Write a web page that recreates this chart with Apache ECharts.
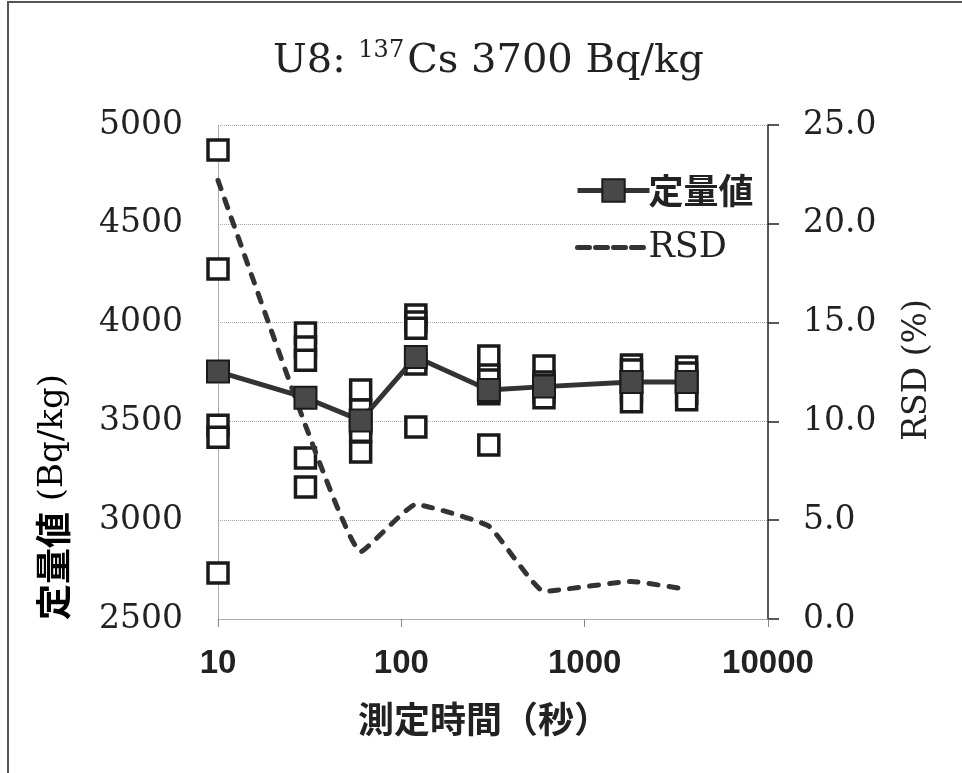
<!DOCTYPE html>
<html>
<head>
<meta charset="utf-8">
<script src="https://cdn.jsdelivr.net/npm/echarts@6/dist/echarts.min.js"></script>
<style>html,body{margin:0;padding:0;background:#fff;}#c{width:962px;height:773px;}</style>
</head>
<body>
<div id="c"></div>
<script>
// ---- data ----
var times = [10, 30, 60, 120, 300, 600, 1800, 3600];
var meanValues = [3752, 3620, 3505, 3826, 3659, 3676, 3700, 3700];
var rsdValues = [22.2, 9.8, 3.4, 5.8, 4.7, 1.4, 1.9, 1.5];
var m10 = [4873, 4271, 3480, 3420, 2733];
var m30 = [3947, 3876, 3810, 3315, 3168];
var m60 = [3659, 3558, 3490, 3450, 3345];
var m120 = [4038, 4003, 3972, 3790, 3472];
var m300 = [3831, 3735, 3710, 3640, 3380];
var m600 = [3780, 3700, 3680, 3650, 3620];
var m1800 = [3785, 3760, 3700, 3650, 3600];
var m3600 = [3775, 3745, 3700, 3643, 3610];
var measurements = [m10, m30, m60, m120, m300, m600, m1800, m3600];
var leftTicks = {min: 2500, max: 5000, interval: 500};
var rightTicks = {min: 0, max: 25, interval: 5};

var serif = "'DejaVu Serif', 'Noto Sans CJK JP', serif";
var cjk = "'Noto Sans CJK JP', 'DejaVu Serif', sans-serif";

var scatterData = [];
measurements.forEach(function (arr, i) {
  arr.forEach(function (v) { scatterData.push([times[i], v]); });
});
var meanData = times.map(function (t, i) { return [t, meanValues[i]]; });
var rsdData = times.map(function (t, i) { return [t, rsdValues[i]]; });

var chart = echarts.init(document.getElementById('c'), null, {renderer: 'canvas'});
chart.setOption({
  backgroundColor: '#fff',
  animation: false,
  title: {
    text: '{a|U8: }{s|137}{a|Cs 3700 Bq/kg}',
    left: 268, top: 34,
    textStyle: {
      fontWeight: 'normal',
      rich: {
        a: {fontFamily: serif, fontSize: 40, fontWeight: 'normal', color: '#222', lineHeight: 46},
        s: {fontFamily: serif, fontSize: 24, fontWeight: 'normal', color: '#222', verticalAlign: 'top', lineHeight: 46, padding: [0, 3, 0, 0]}
      }
    }
  },
  legend: {
    data: [
      {name: '定量値', lineStyle: {width: 5, color: '#333'}},
      {name: 'RSD', itemStyle: {opacity: 0, borderWidth: 0}, lineStyle: {width: 5, type: [12, 6], color: '#333'}}
    ],
    orient: 'vertical',
    left: 570, top: 168,
    itemWidth: 72, itemHeight: 28, itemGap: 22,
    textStyle: {
      fontFamily: serif, fontSize: 34, color: '#222', padding: [0, 0, 0, -6],
      rich: {
        c: {fontFamily: cjk, fontSize: 35, fontWeight: 'bold', color: '#222'},
        s: {fontFamily: serif, fontSize: 35, color: '#222'}
      }
    },
    formatter: function (n) { return n === 'RSD' ? '{s|RSD}' : '{c|' + n + '}'; }
  },
  grid: {left: 218, right: 194, top: 125, bottom: 154, containLabel: false},
  xAxis: {
    type: 'log', logBase: 10, min: 10, max: 10000,
    axisLine: {show: true, lineStyle: {color: '#999', type: 'dotted', width: 1}},
    axisTick: {show: true, length: 8, lineStyle: {color: '#888'}},
    minorTick: {show: false},
    splitLine: {show: false},
    axisLabel: {fontFamily: "'Liberation Sans', Arial, sans-serif", fontWeight: 'bold', fontSize: 33, color: '#222', margin: 28,
      formatter: function (v) { return String(Math.round(v)); }}
  },
  yAxis: [{
    type: 'value', min: leftTicks.min, max: leftTicks.max, interval: leftTicks.interval,
    axisLine: {show: true, lineStyle: {color: '#999', type: 'dotted', width: 1}},
    axisTick: {show: false},
    splitLine: {show: true, lineStyle: {color: '#aaa', type: 'dotted', width: 1}},
    axisLabel: {fontFamily: serif, fontSize: 33, color: '#222', margin: 35,
      formatter: function (v) { return String(v); }}
  }, {
    type: 'value', min: rightTicks.min, max: rightTicks.max, interval: rightTicks.interval,
    position: 'right',
    axisLine: {show: true, lineStyle: {color: '#222', width: 1.5}},
    axisTick: {show: true, inside: false, length: 11, lineStyle: {color: '#222', width: 1.5}},
    splitLine: {show: false},
    axisLabel: {fontFamily: serif, fontSize: 33, color: '#222', margin: 35,
      formatter: function (v) { return v.toFixed(1); }}
  }],
  series: [{
    name: '測定値', type: 'scatter', xAxisIndex: 0, yAxisIndex: 0,
    symbol: 'rect', symbolSize: 20,
    itemStyle: {color: '#fff', borderColor: '#1a1a1a', borderWidth: 3.5, opacity: 1},
    data: scatterData, z: 2
  }, {
    name: 'RSD', type: 'line', xAxisIndex: 0, yAxisIndex: 1,
    symbol: 'none', smooth: 0.12,
    lineStyle: {color: '#333', width: 5, type: [9, 11], cap: 'round'},
    itemStyle: {color: '#333'},
    data: rsdData, z: 3
  }, {
    name: '定量値', type: 'line', xAxisIndex: 0, yAxisIndex: 0,
    symbol: 'rect', symbolSize: 22,
    lineStyle: {color: '#333', width: 5},
    itemStyle: {color: '#484848', borderColor: '#1a1a1a', borderWidth: 2},
    data: meanData, z: 4
  }],
  graphic: [{
    type: 'rect', shape: {x: 8, y: 2, width: 1200, height: 1200},
    style: {fill: 'none', stroke: '#555', lineWidth: 2}, silent: true
  }, {
    type: 'text', x: 53, y: 497, rotation: Math.PI / 2,
    style: {
      text: '{c|定量値}{l| (Bq/kg)}',
      rich: {
        c: {fontFamily: cjk, fontSize: 36, fontWeight: 'bold', color: '#222'},
        l: {fontFamily: serif, fontSize: 34, color: '#222'}
      },
      align: 'center', verticalAlign: 'middle'
    }
  }, {
    type: 'text', x: 917, y: 370, rotation: Math.PI / 2,
    style: {text: 'RSD (%)', fontFamily: serif, fontSize: 33, fill: '#222', align: 'center', verticalAlign: 'middle'}
  }, {
    type: 'text', x: 484, y: 719,
    style: {text: '測定時間（秒）', fontFamily: cjk, fontSize: 36, fontWeight: 'bold', fill: '#222', align: 'center', verticalAlign: 'middle'}
  }]
});
</script>
</body>
</html>
